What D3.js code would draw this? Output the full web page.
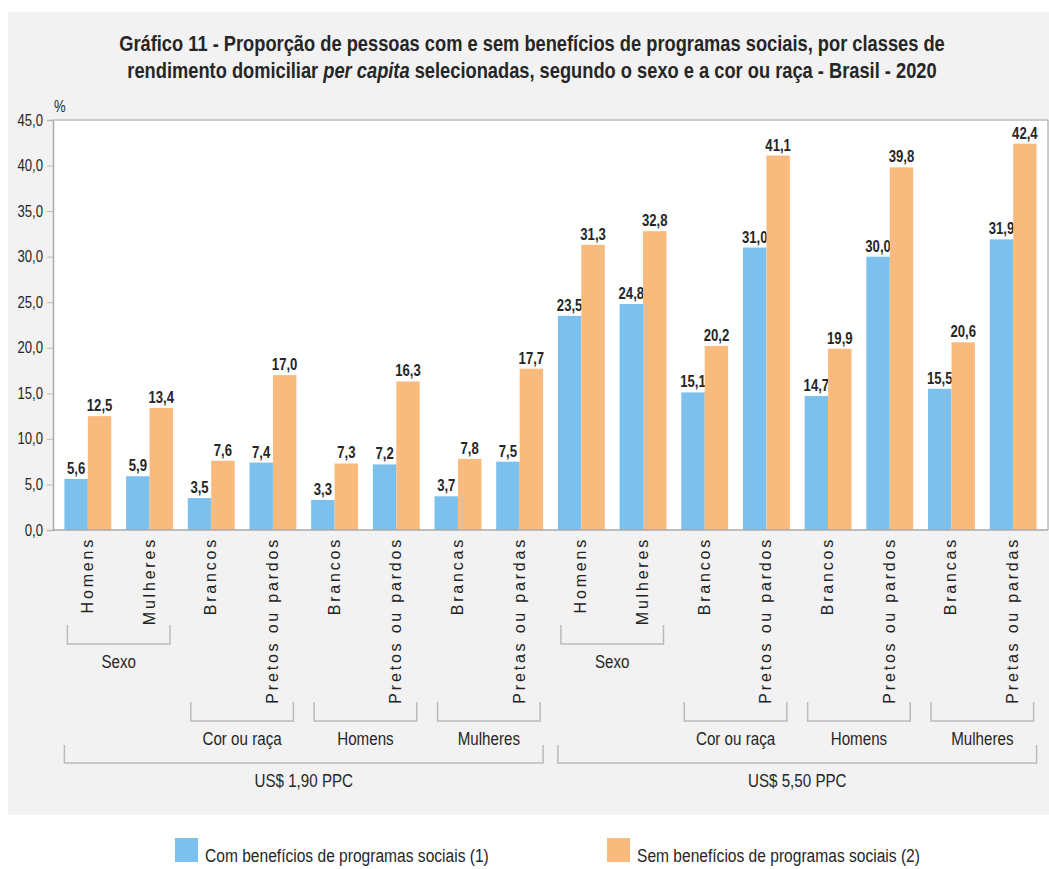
<!DOCTYPE html>
<html>
<head>
<meta charset="utf-8">
<script src="https://cdn.jsdelivr.net/npm/d3@7"></script>
<style>
  html, body { margin: 0; padding: 0; background: #ffffff; }
  svg { display: block; }
  text { font-family: "Liberation Sans", Arial, sans-serif; }
</style>
</head>
<body>
<svg id="chart" width="1049" height="869"></svg>
<script>
// ---- Data ----
const categories = ["Homens", "Mulheres", "Brancos", "Pretos ou pardos", "Brancos", "Pretos ou pardos", "Brancas", "Pretas ou pardas",
                    "Homens", "Mulheres", "Brancos", "Pretos ou pardos", "Brancos", "Pretos ou pardos", "Brancas", "Pretas ou pardas"];
const comBeneficios = [5.6, 5.9, 3.5, 7.4, 3.3, 7.2, 3.7, 7.5, 23.5, 24.8, 15.1, 31.0, 14.7, 30.0, 15.5, 31.9];
const semBeneficios = [12.5, 13.4, 7.6, 17.0, 7.3, 16.3, 7.8, 17.7, 31.3, 32.8, 20.2, 41.1, 19.9, 39.8, 20.6, 42.4];
const seriesNames = ["Com benefícios de programas sociais (1)", "Sem benefícios de programas sociais (2)"];
const yTicks = [0, 5, 10, 15, 20, 25, 30, 35, 40, 45];
const subgroupLabels = ["Sexo", "Cor ou raça", "Homens", "Mulheres", "Sexo", "Cor ou raça", "Homens", "Mulheres"];
const subgroupFirst = [0, 2, 4, 6, 8, 10, 12, 14];
const subgroupLast  = [1, 3, 5, 7, 9, 11, 13, 15];
const groupLabels = ["US$ 1,90 PPC", "US$ 5,50 PPC"];
const groupFirst = [0, 8];
const groupLast = [7, 15];
const titleLine1 = "Gráfico 11 - Proporção de pessoas com e sem benefícios de programas sociais, por classes de";
const titleLine2 = ["rendimento domiciliar ", "per capita", " selecionadas, segundo o sexo e a cor ou raça - Brasil - 2020"];

// ---- Layout ----
const W = 1049;
const colors = ["#7cc0ee", "#f9bb7d"];
const plot = { left: 53, right: 1048, top: 120, bottom: 530 };
const NARROW = 0.82;
const svg = d3.select("#chart");

// condensed text helper: Liberation Sans squeezed horizontally
function ntext(parent, x, y, anchor, size, weight) {
  const g = parent.append("g").attr("transform", `translate(${x},${y}) scale(${NARROW},1)`);
  return g.append("text").attr("x", 0).attr("y", 0).attr("text-anchor", anchor)
    .attr("font-size", size).attr("font-weight", weight || "normal").attr("fill", "#262626");
}

// background panel
svg.append("rect").attr("x", 8).attr("y", 12).attr("width", W - 8).attr("height", 815 - 12).attr("fill", "#f2f2f2");
svg.append("rect").attr("x", plot.left).attr("y", plot.top).attr("width", plot.right - plot.left).attr("height", plot.bottom - plot.top).attr("fill", "#ffffff");

// title
ntext(svg, 532, 51, "middle", 22.3, "bold").text(titleLine1);
const t2 = ntext(svg, 532, 78, "middle", 22.3, "bold");
titleLine2.forEach((t, i) => t2.append("tspan").attr("font-style", i === 1 ? "italic" : "normal").text(t));

// scales
const idx = d3.range(categories.length);
const x0 = d3.scaleBand().domain(idx).range([57, 1044]).paddingInner(0.24).paddingOuter(0.12);
const x1 = d3.scaleBand().domain([0, 1]).range([0, x0.bandwidth()]);
const y = d3.scaleLinear().domain([0, 45]).range([plot.bottom, plot.top]);
const fmt = v => d3.format(".1f")(v).replace(".", ",");

// y axis
const yAxis = d3.axisLeft(y).tickValues(yTicks).tickSize(6).tickFormat("");
const ya = svg.append("g").attr("transform", `translate(${plot.left},0)`).call(yAxis);
ya.select(".domain").attr("stroke", "#aaa").attr("stroke-width", 1.5);
ya.selectAll(".tick line").attr("stroke", "#bbb");
yTicks.forEach(v => ntext(svg, 43, y(v) + 5.5, "end", 16).text(fmt(v)));

// borders top, right
svg.append("line").attr("x1", plot.left).attr("x2", plot.right).attr("y1", plot.top).attr("y2", plot.top).attr("stroke", "#bbb").attr("stroke-width", 1.5);
svg.append("line").attr("x1", plot.right).attr("x2", plot.right).attr("y1", plot.top).attr("y2", plot.bottom).attr("stroke", "#bbb").attr("stroke-width", 1.5);

ntext(svg, 54, 112, "start", 16).text("%");

// bars
const series = [comBeneficios, semBeneficios];
series.forEach((vals, s) => {
  const g = svg.append("g");
  g.selectAll("rect").data(idx).join("rect")
    .attr("x", i => x0(i) + x1(s))
    .attr("width", x1.bandwidth())
    .attr("y", i => y(vals[i]))
    .attr("height", i => y(0) - y(vals[i]))
    .attr("fill", colors[s]);
  idx.forEach(i => {
    ntext(svg, x0(i) + x1(s) + x1.bandwidth() / 2, y(vals[i]) - 5, "middle", 16, "bold").text(fmt(vals[i]));
  });
});

// x baseline
svg.append("line").attr("x1", plot.left).attr("x2", plot.right).attr("y1", plot.bottom).attr("y2", plot.bottom).attr("stroke", "#aaa").attr("stroke-width", 1.5);

// category labels
svg.append("g").selectAll("text").data(idx).join("text")
  .attr("transform", i => `translate(${x0(i) + x0.bandwidth() / 2 + 5},537) rotate(-90)`)
  .attr("text-anchor", "end").attr("font-size", 16).attr("letter-spacing", 2.8).attr("fill", "#222")
  .text(i => categories[i]);

// brackets
function bracket(a, b, top, mid, label, inset) {
  const xa = x0(a) + inset, xb = x0(b) + x0.bandwidth() - inset;
  svg.append("path").attr("d", `M${xa},${top}V${mid}H${xb}V${top}`)
    .attr("fill", "none").attr("stroke", "#bbb").attr("stroke-width", 1.5);
  ntext(svg, (xa + xb) / 2, mid + 24, "middle", 18.5).text(label);
}
subgroupLabels.forEach((lab, k) => {
  const low = (subgroupFirst[k] % 8) === 0;
  bracket(subgroupFirst[k], subgroupLast[k], low ? 625 : 702, low ? 644 : 721, lab, 3);
});
groupLabels.forEach((lab, k) => bracket(groupFirst[k], groupLast[k], 745, 763, lab, 0));

// legend
const legX = [175, 607];
seriesNames.forEach((name, s) => {
  svg.append("rect").attr("x", legX[s]).attr("y", 838).attr("width", 23).attr("height", 24).attr("fill", colors[s]);
  ntext(svg, legX[s] + 30, 862, "start", 19).text(name);
});
</script>
</body>
</html>
